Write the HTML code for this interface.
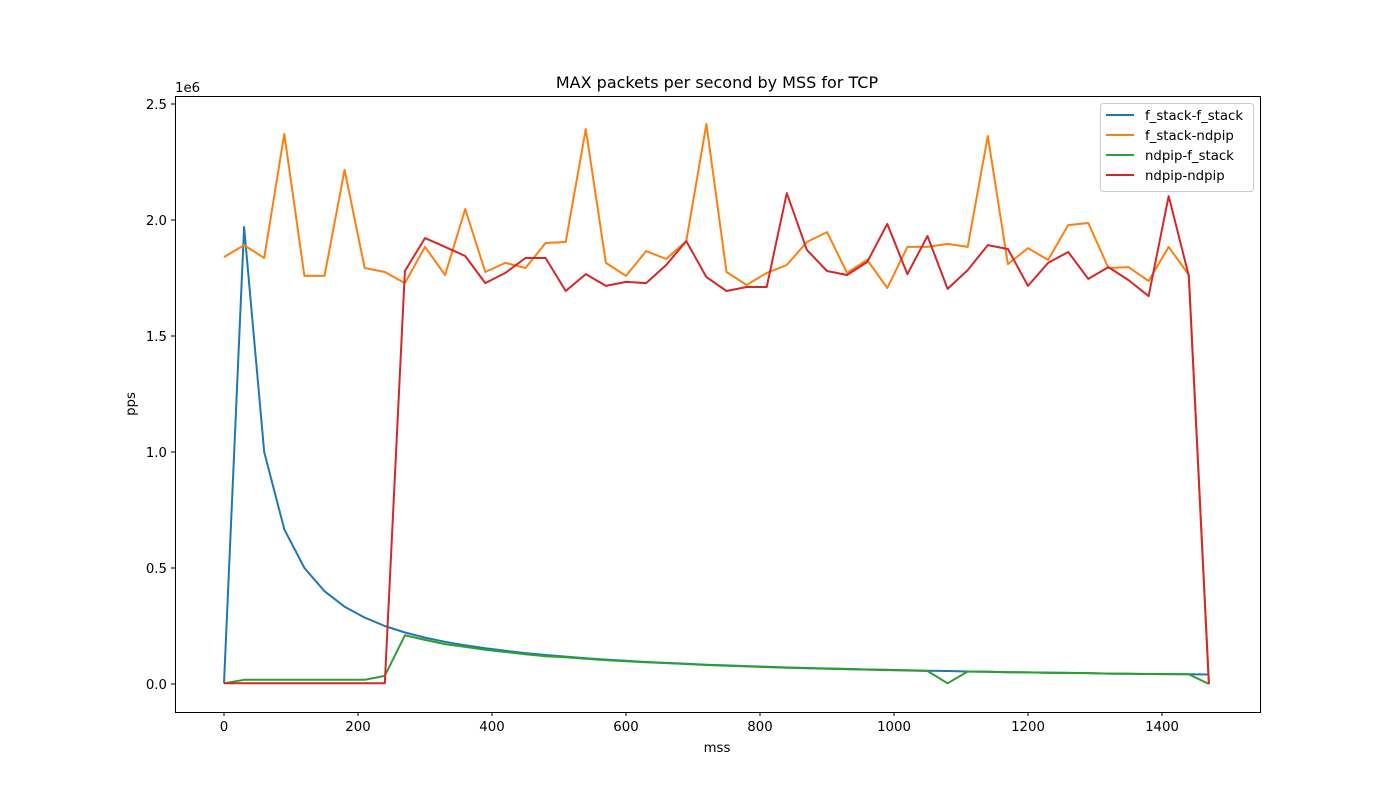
<!DOCTYPE html>
<html><head><meta charset="utf-8"><style>
body{margin:0;background:#fff}
svg text{font-family:"DejaVu Sans","Liberation Sans",sans-serif;fill:#000}
</style></head><body>
<svg id="chart" width="1400" height="800" xmlns="http://www.w3.org/2000/svg">
<rect width="1400" height="800" fill="#fff"/>
<text x="717" y="88" font-size="16" text-anchor="middle">MAX packets per second by MSS for TCP</text>
<text x="175" y="92" font-size="13.3">1e6</text>
<text transform="translate(135,404) rotate(-90)" font-size="13.3" text-anchor="middle">pps</text>
<text x="717" y="752" font-size="13.3" text-anchor="middle">mss</text>
<g id="ticks"></g>
<g id="series"></g>
<rect x="175.5" y="96.5" width="1085" height="616" fill="none" stroke="#000" stroke-width="1"/>
<g id="legend"></g>
</svg>
<script>
const mss = [];
for (let i = 0; i < 50; i++) mss.push(i * 30);
const seriesNames = ["f_stack-f_stack","f_stack-ndpip","ndpip-f_stack","ndpip-ndpip"];
const colors = ["#1f77b4","#ff7f0e","#2ca02c","#d62728"];
const fsFs = [0.003,1.97,1.0,0.667,0.5,0.4,0.333,0.286,0.25,0.222,0.2,0.182,0.167,0.154,0.143,0.133,0.125,0.118,0.111,0.105,0.1,0.095,0.091,0.087,0.083,0.08,0.077,0.074,0.071,0.069,0.067,0.065,0.0625,0.061,0.059,0.057,0.056,0.054,0.053,0.051,0.05,0.049,0.048,0.047,0.045,0.044,0.043,0.043,0.042,0.041];
const fsNd = [1.840,1.892,1.836,2.371,1.759,1.759,2.216,1.793,1.776,1.728,1.884,1.763,2.047,1.776,1.815,1.793,1.901,1.905,2.392,1.815,1.759,1.866,1.832,1.909,2.414,1.776,1.720,1.772,1.806,1.905,1.948,1.772,1.828,1.707,1.884,1.884,1.897,1.884,2.362,1.810,1.879,1.828,1.978,1.987,1.793,1.797,1.737,1.884,1.763,0];
const ndFs = [0.003,0.018,0.018,0.018,0.018,0.018,0.018,0.018,0.035,0.21,0.19,0.172,0.16,0.148,0.138,0.128,0.12,0.115,0.109,0.103,0.098,0.094,0.09,0.086,0.082,0.079,0.076,0.073,0.07,0.068,0.066,0.064,0.062,0.06,0.058,0.056,0.003,0.054,0.053,0.051,0.05,0.048,0.048,0.047,0.045,0.044,0.043,0.042,0.042,0];
const ndNd = [0.003,0.003,0.003,0.003,0.003,0.003,0.003,0.003,0.003,1.780,1.922,1.884,1.845,1.728,1.772,1.836,1.836,1.694,1.767,1.716,1.733,1.728,1.806,1.909,1.754,1.694,1.711,1.711,2.116,1.871,1.780,1.763,1.819,1.983,1.767,1.931,1.703,1.784,1.892,1.875,1.716,1.815,1.862,1.746,1.797,1.741,1.672,2.103,1.759,0];
const xTicks = [0,200,400,600,800,1000,1200,1400];
const yTicks = [0,0.5,1.0,1.5,2.0,2.5];
const yTickLabels = ["0.0","0.5","1.0","1.5","2.0","2.5"];

const NS = "http://www.w3.org/2000/svg";
const xScale = v => 224 + v * 0.67;
const yScale = v => 684 - v * 232;
const tg = document.getElementById("ticks");
function mk(tag, attrs, parent) { const e = document.createElementNS(NS, tag); for (const k in attrs) e.setAttribute(k, attrs[k]); parent.appendChild(e); return e; }
xTicks.forEach(t => {
  const x = xScale(t);
  const l = mk("line", {x1:x, x2:x, y1:712, y2:716, stroke:"#000"}, tg);
  
  
  const tx = mk("text", {x:x, y:731, "font-size":13.3, "text-anchor":"middle"}, tg);
  
  
  tx.textContent = t;
});
yTicks.forEach((t, i) => {
  const y = yScale(t);
  const l = mk("line", {x1:171, x2:175, y1:y, y2:y, stroke:"#000"}, tg);
  
  
  const tx = mk("text", {x:167, y:y + 5, "font-size":13.3, "text-anchor":"end"}, tg);
  
  
  tx.textContent = yTickLabels[i];
});
const sg = document.getElementById("series");
[fsFs, fsNd, ndFs, ndNd].forEach((vals, si) => {
  const pts = vals.map((v, i) => xScale(mss[i]).toFixed(1) + "," + yScale(v).toFixed(1)).join(" ");
  const p = mk("polyline", {points:pts, fill:"none", stroke:colors[si], "stroke-width":2, "stroke-linejoin":"round"}, sg);
  
  
});
const lg = document.getElementById("legend");
const box = mk("rect", {x:1100.5, y:103.5, width:153, height:88, rx:3, fill:"#fff", stroke:"#ccc"}, lg);


seriesNames.forEach((n, i) => {
  const y = 115 + i * 20;
  const l = mk("line", {x1:1106, x2:1134, y1:y, y2:y, stroke:colors[i], "stroke-width":2}, lg);
  
  
  const t = mk("text", {x:1145, y:y + 5, "font-size":13.3}, lg);
  
  
  t.textContent = n;
});
</script>
</body></html>
